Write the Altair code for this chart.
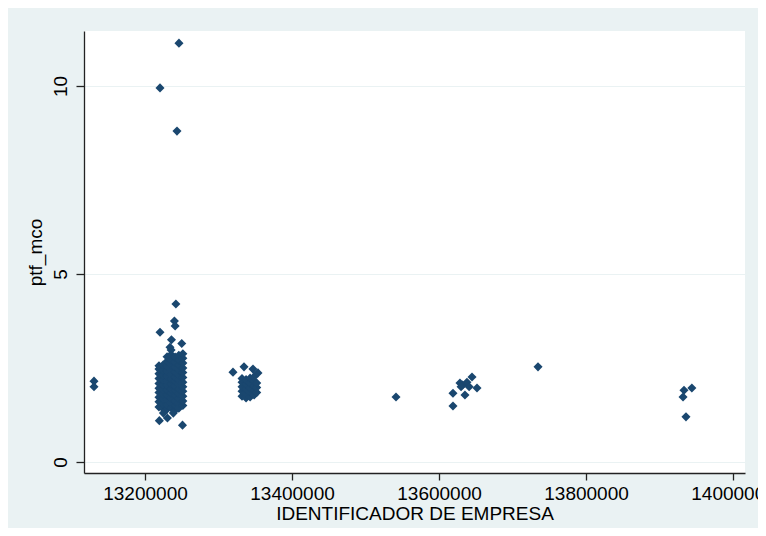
import altair as alt
import pandas as pd

# Firm identifiers (x) and ptf_mco values (y)
firm_left = [13130600, 13130600]
ptf_left = [2.15, 2.0]

main_ids = (
    [13219000] * 10 + [13224500] * 10 + [13230000] * 12 + [13235500] * 13 +
    [13241000] * 12 + [13246000] * 12 + [13251500] * 12
)
main_ptf = [
    1.46, 1.6, 1.72, 1.85, 1.96, 2.09, 2.22, 2.35, 2.47, 2.56,
    1.42, 1.55, 1.68, 1.8, 1.93, 2.05, 2.18, 2.31, 2.44, 2.58,
    1.4, 1.52, 1.66, 1.79, 1.91, 2.04, 2.17, 2.29, 2.42, 2.55, 2.68, 2.8,
    1.44, 1.57, 1.7, 1.83, 1.95, 2.08, 2.2, 2.33, 2.46, 2.59, 2.72, 2.86, 2.98,
    1.38, 1.5, 1.63, 1.77, 1.9, 2.02, 2.15, 2.27, 2.4, 2.53, 2.66, 2.79,
    1.43, 1.56, 1.69, 1.82, 1.94, 2.07, 2.19, 2.32, 2.45, 2.58, 2.71, 2.84,
    1.5, 1.62, 1.75, 1.88, 2.0, 2.12, 2.25, 2.38, 2.5, 2.63, 2.76, 2.88,
]
main_extra_ids = [13219500, 13230500, 13238500, 13251000, 13225000,
                  13242000, 13240000, 13241000, 13220400, 13236000,
                  13250000, 13234000, 13246200, 13220400, 13243500]
main_extra_ptf = [1.1, 1.17, 1.3, 0.98, 1.3,
                  4.2, 3.75, 3.62, 3.45, 3.25,
                  3.15, 3.05, 11.14, 9.95, 8.8]

second_ids = (
    [13332000] * 5 + [13337500] * 5 + [13343000] * 5 + [13348500] * 5 +
    [13352000] * 3 + [13319700, 13334700, 13346900, 13353700]
)
second_ptf = [
    1.75, 1.88, 2.0, 2.12, 2.22,
    1.7, 1.82, 1.95, 2.07, 2.19,
    1.73, 1.85, 1.97, 2.1, 2.23,
    1.78, 1.9, 2.03, 2.15, 2.27,
    1.85, 1.98, 2.1,
    2.39, 2.53, 2.47, 2.37,
]

other_ids = [13541500,
             13619000, 13619000, 13628500, 13644900, 13651700, 13635300,
             13632000, 13638000, 13641000, 13630000,
             13734700,
             13944000, 13933300, 13932000, 13936000]
other_ptf = [1.73,
             1.83, 1.49, 2.1, 2.26, 1.97, 1.78,
             2.05, 2.12, 2.0, 2.0,
             2.53,
             1.97, 1.91, 1.73, 1.2]

x_ticks = [13200000, 13400000, 13600000, 13800000, 14000000]
y_ticks = [0, 5, 10]

df = pd.DataFrame({
    "id": firm_left + main_ids + main_extra_ids + second_ids + other_ids,
    "ptf_mco": ptf_left + main_ptf + main_extra_ptf + second_ptf + other_ptf,
})

navy = "#1A476F"
bg = "#EAF2F3"
font = "Liberation Sans"

chart = alt.Chart(df).mark_point(
    shape="diamond", filled=True, size=82, color=navy, opacity=1
).encode(
    x=alt.X("id:Q",
            scale=alt.Scale(domain=[13117000, 14016300], nice=False, zero=False),
            axis=alt.Axis(values=x_ticks, format="d", title="IDENTIFICADOR DE EMPRESA",
                          grid=False, labelOverlap=False, labelBound=False,
                          labelFlush=False, tickSize=7, labelPadding=4,
                          titlePadding=1)),
    y=alt.Y("ptf_mco:Q",
            scale=alt.Scale(domain=[-0.293, 11.463], nice=False, zero=False),
            axis=alt.Axis(values=y_ticks, title="ptf_mco", grid=True,
                          gridColor=bg, gridWidth=1.2,
                          labelAngle=270, labelAlign="center", labelBaseline="bottom",
                          tickSize=8, labelPadding=6, titlePadding=6)),
).properties(
    width=661, height=442,
    autosize=alt.AutoSizeParams(type="none"),
    padding={"left": 76, "top": 23, "right": 13, "bottom": 55},
).configure(
    background=bg,
).configure_view(
    fill="white", stroke=None,
).configure_axis(
    labelFont=font, titleFont=font, labelFontSize=19, titleFontSize=19,
    labelColor="#000000", titleColor="#000000", titleFontWeight="normal",
    domainColor="#222222", tickColor="#222222", domainWidth=1.3, tickWidth=1.3,
)

chart.save("out.html", embed_options={"renderer": "svg", "actions": False})
